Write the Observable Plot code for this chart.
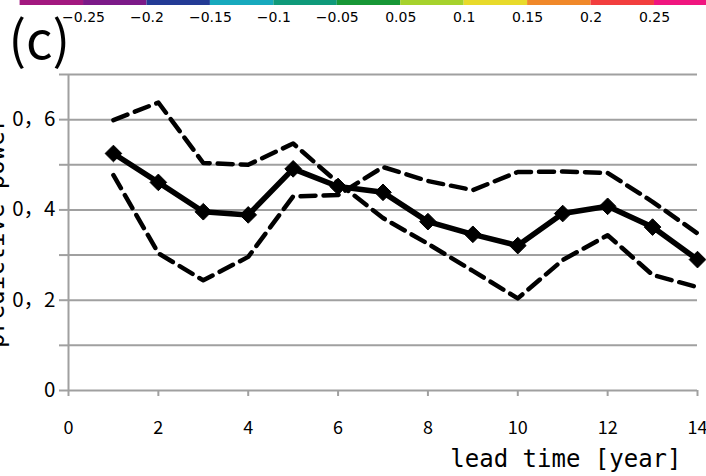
<!DOCTYPE html>
<html>
<head>
<meta charset="utf-8">
<script src="https://cdn.jsdelivr.net/npm/d3@7"></script>
<script src="https://cdn.jsdelivr.net/npm/@observablehq/plot@0.6"></script>
<style>
  html, body { margin: 0; padding: 0; background: #fff; overflow: hidden; }
  #wrap { position: relative; width: 706px; height: 476px; overflow: hidden; }
  #wrap svg { position: absolute; left: 0; top: 0; overflow: hidden; }
</style>
</head>
<body>
<div id="wrap"></div>
<script>
// ---- data ----
const leadTime = [1, 2, 3, 4, 5, 6, 7, 8, 9, 10, 11, 12, 13, 14];
const meanPower = [0.525, 0.461, 0.396, 0.389, 0.491, 0.452, 0.439, 0.374, 0.346, 0.321, 0.392, 0.408, 0.362, 0.290];
const boundA = [0.599, 0.638, 0.504, 0.500, 0.547, 0.460, 0.382, 0.325, 0.265, 0.204, 0.289, 0.344, 0.256, 0.229];
const boundB = [0.477, 0.304, 0.244, 0.296, 0.430, 0.433, 0.495, 0.464, 0.444, 0.484, 0.485, 0.482, 0.418, 0.348];

const yTicks = [0, 0.1, 0.2, 0.3, 0.4, 0.5, 0.6, 0.7];
const yTickLabels = ["0", "", "0，2", "", "0，4", "", "0，6", ""];
const xTicks = [0, 2, 4, 6, 8, 10, 12, 14];

// colour bar (cut-off strip at top)
const cbSegments = [0, 1, 2, 3, 4, 5, 6, 7, 8, 9, 10];
const cbColors = ["#a2187f", "#7c1a88", "#233b95", "#17a9bd", "#0f9a7a", "#179736",
                  "#a6d22d", "#e8da2b", "#f0882a", "#f23e3e", "#f0157f"];
const cbBoundaries = [1, 2, 3, 4, 5, 6, 7, 8, 9, 10];
const cbLabels = ["\u22120.25", "\u22120.2", "\u22120.15", "\u22120.1", "\u22120.05",
                  "0.05", "0.1", "0.15", "0.2", "0.25"];

const series = (vals) => leadTime.map((t, i) => ({t, v: vals[i]}));
const mean = series(meanPower), a = series(boundA), b = series(boundB);

const gridColor = "#a0a0a0";
const monoFont = "DejaVu Sans Mono";
const jpFont = "Noto Sans CJK JP";

const main = Plot.plot({
  width: 706,
  height: 476,
  marginLeft: 68,
  marginRight: 9,
  marginTop: 74,
  marginBottom: 86,
  style: {background: "#fff", fontFamily: jpFont, color: "#000"},
  x: {domain: [0, 14]},
  y: {domain: [0, 0.7]},
  marks: [
    Plot.ruleY(yTicks, {stroke: gridColor, strokeWidth: 2}),
    Plot.ruleX([0], {y1: 0, y2: 0.7, stroke: gridColor, strokeWidth: 2}),
    Plot.axisY(yTicks, {
      tickSize: 9, tickPadding: 4, stroke: gridColor, strokeWidth: 2,
      tickFormat: (d, i) => yTickLabels[i], label: null,
      fontSize: 20.5, fontFamily: jpFont, fill: "#000"
    }),
    Plot.axisX(xTicks, {
      tickSize: 6, tickPadding: 25, stroke: gridColor, strokeWidth: 2,
      label: null, fontSize: 18, fontFamily: jpFont, fill: "#000"
    }),
    Plot.line(a, {x: "t", y: "v", stroke: "#000", strokeWidth: 4.5, strokeDasharray: "15,8", strokeLinejoin: "round"}),
    Plot.line(b, {x: "t", y: "v", stroke: "#000", strokeWidth: 4.5, strokeDasharray: "15,8", strokeLinejoin: "round"}),
    Plot.line(mean, {x: "t", y: "v", stroke: "#000", strokeWidth: 5.5, strokeLinejoin: "round"}),
    Plot.dot(mean, {x: "t", y: "v", symbol: "diamond2", r: 7.5, fill: "#000", stroke: "#000", strokeWidth: 1}),
    Plot.text(["(c)"], {
      frameAnchor: "top-left", dx: -60, dy: -16, textAnchor: "start", lineAnchor: "bottom",
      fontSize: 52, fontFamily: jpFont
    }),
    Plot.text(["lead time [year]"], {
      frameAnchor: "bottom-right", dx: -16, dy: 76, textAnchor: "end", lineAnchor: "bottom",
      fontSize: 24, fontFamily: monoFont
    }),
    Plot.text(["predictive power"], {
      frameAnchor: "left", dx: -65, dy: 0, rotate: -90, textAnchor: "middle", lineAnchor: "bottom",
      fontSize: 24, fontFamily: monoFont
    })
  ]
});

const cbar = Plot.plot({
  width: 706,
  height: 30,
  margin: 0,
  style: {background: "transparent", fontFamily: "DejaVu Sans", color: "#000"},
  x: {domain: [0, 11], range: [19.6, 717.4], axis: null},
  y: {domain: [0, 1], range: [5, 0], axis: null},
  color: {type: "identity"},
  marks: [
    Plot.rect(cbSegments, {x1: d => d, x2: d => d + 1, y1: 0, y2: 1, fill: (d, i) => cbColors[i], clip: true}),
    Plot.text(cbBoundaries, {
      x: d => d, text: (d, i) => cbLabels[i], frameAnchor: "top", dy: 21,
      lineAnchor: "bottom", fontSize: 14, fontFamily: "DejaVu Sans"
    })
  ]
});

const wrap = document.getElementById("wrap");
wrap.appendChild(main);
wrap.appendChild(cbar);
</script>
</body>
</html>
